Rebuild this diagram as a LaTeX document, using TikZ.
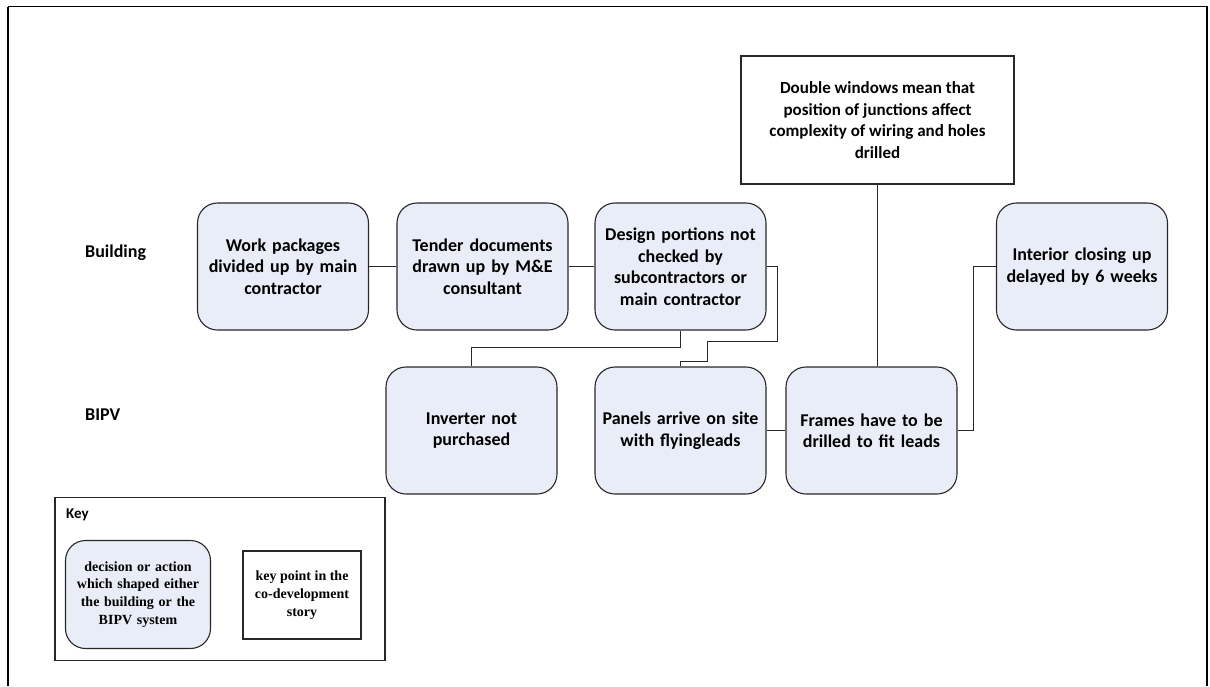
\documentclass[tikz,border=0pt]{standalone}
\usepackage{fontspec}
\setmainfont{Carlito}
\newfontfamily\keyserif{Liberation Serif}
\definecolor{stepfill}{RGB}{232,237,247}
\definecolor{edge}{RGB}{40,40,40}
\begin{document}
\begin{tikzpicture}[x=1pt,y=-1pt,
  every node/.style={inner sep=0pt},
  action/.style={draw=edge, line width=1.1pt, fill=stepfill, rounded corners=20pt,
    minimum width=171pt, minimum height=127pt, align=center, text width=165pt,
    font=\fontsize{18}{21.5}\selectfont\bfseries},
  keypoint/.style={draw=edge, line width=1.1pt, fill=white, align=center,
    font=\fontsize{17}{21.5}\selectfont\bfseries},
  rowlabel/.style={anchor=west, font=\fontsize{18}{20}\selectfont\bfseries},
  link/.style={draw=edge, line width=1pt}]
\useasboundingbox (0,0) rectangle (1210,686);
% page frame
\draw[line width=1.2pt, draw=black] (8,6.5) -- (1207,6.5) -- (1207,686) (8,6.5) -- (8,686);

% row labels
\node[rowlabel] (lbuild) at (85,253) {Building};
\node[rowlabel] (lbipv) at (85,415) {BIPV};

% building row
\node[action] (work) at (283,266.5) {Work packages\\divided up by main\\contractor};
\node[action] (tender) at (482.5,266.5) {Tender documents\\drawn up by M\&E\\consultant};
\node[action] (design) at (680.5,266.5) {Design portions not\\checked by\\subcontractors or\\main contractor};
\node[action] (interior) at (1082,266.5) {Interior closing up\\delayed by 6 weeks};

% BIPV row
\node[action] (inverter) at (471.5,430.5) {Inverter not\\purchased};
\node[action] (panels) at (680.5,430.5) {Panels arrive on site\\with flyingleads};
\node[action] (frames) at (871.5,430.5) {Frames have to be\\drilled to fit leads};

% key point
\node[keypoint, minimum width=273pt, minimum height=128pt] (double) at (877.5,120)
  {Double windows mean that\\position of junctions affect\\complexity of wiring and holes\\drilled};

% connectors
\draw[link] (work.east) -- (tender.west);
\draw[link] (tender.east) -- (design.west);
\draw[link] (design.south) -- ++(0,17) -| (inverter.north);
\draw[link] (design.east) -- ++(11,0) |- (707,341) |- (680.5,361) -- (panels.north);
\draw[link] (panels.east) -- (frames.west);
\draw[link] (double.south) -- (double.south |- frames.north);
\draw[link] (frames.east) -- ++(16,0) |- (interior.west);

% key
\node[draw=edge, line width=1.1pt, minimum width=330pt, minimum height=163pt] (keybox) at (220,579) {};
\node[anchor=west, font=\fontsize{15}{18}\selectfont\bfseries] (keytitle) at (66,515) {Key};
\node[action, minimum width=145pt, minimum height=108pt, text width=140pt,
  font=\keyserif\fontsize{14}{17.8}\selectfont\bfseries] (keyaction) at (138,594.5)
  {decision or action\\which shaped either\\the building or the\\BIPV system};
\node[keypoint, minimum width=118pt, minimum height=88pt,
  font=\keyserif\fontsize{14}{17.8}\selectfont\bfseries] (keypt) at (302,595)
  {key point in the\\co-development\\story};
\end{tikzpicture}
\end{document}
